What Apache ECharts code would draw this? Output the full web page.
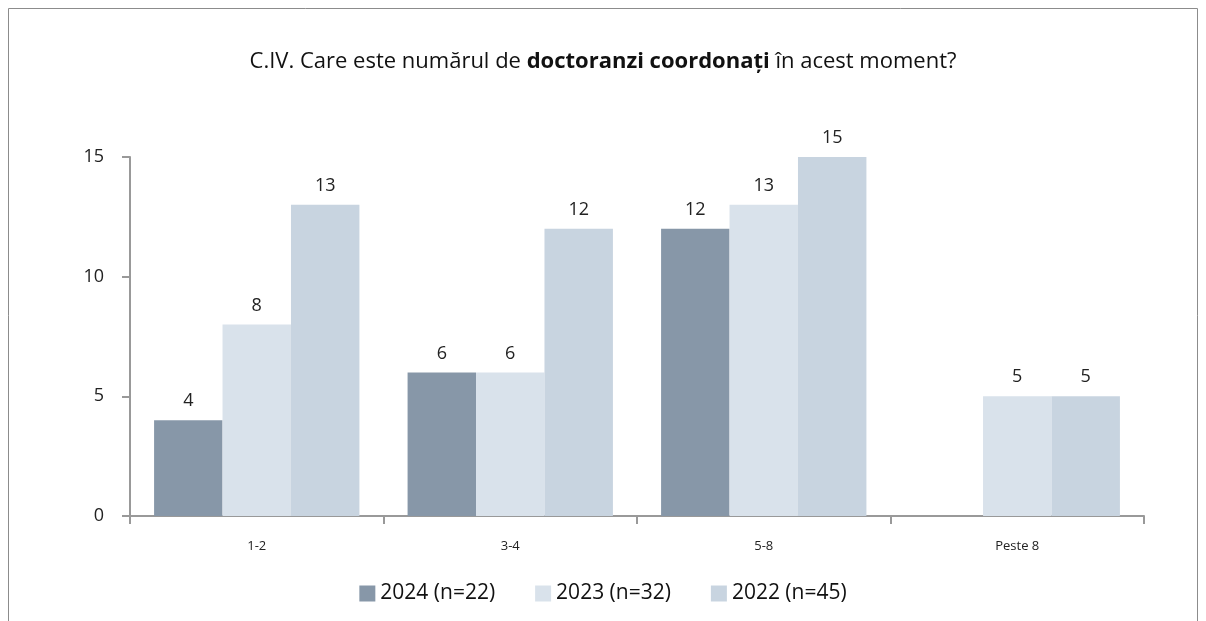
<!DOCTYPE html>
<html>
<head>
<meta charset="utf-8">
<script src="https://cdn.jsdelivr.net/npm/echarts@6/dist/echarts.min.js"></script>
<style>
  html, body { margin: 0; padding: 0; background: #fff; }
  #chart { width: 1206px; height: 621px; }
</style>
</head>
<body>
<div id="chart"></div>
<script>
/* numarul de doctoranzi coordonati, pe ani */
var categories = ['1-2', '3-4', '5-8', 'Peste 8'];
var seriesNames = ['2024 (n=22)', '2023 (n=32)', '2022 (n=45)'];
var values2024 = [4, 6, 12, null];
var values2023 = [8, 6, 13, 5];
var values2022 = [13, 12, 15, 5];
var yTicks = [0, 5, 10, 15];

var colors = ['#8797a8', '#d9e2eb', '#c8d4e0'];
var font = 'Open Sans';

var chart = echarts.init(document.getElementById('chart'));

function barSeries(name, data, color) {
  return {
    name: name,
    type: 'bar',
    data: data,
    itemStyle: { color: color },
    barGap: '0%',
    barCategoryGap: '19%',
    label: {
      show: true,
      position: 'top',
      distance: 10,
      color: '#222',
      fontSize: 18,
      fontFamily: font
    }
  };
}

var option = {
  animation: false,
  color: colors,
  graphic: [{
    type: 'rect',
    shape: { x: 8.5, y: 8.5, width: 1189, height: 640 },
    style: { fill: 'none', stroke: '#8c8c8c', lineWidth: 1 }
  }],
  title: {
    text: '{n|C.IV. Care este numărul de }{b|doctoranzi coordonați}{n| în acest moment?}',
    left: 'center',
    top: 46,
    textStyle: {
      fontWeight: 'normal',
      rich: {
        n: { fontSize: 22, fontFamily: font, color: '#111', fontWeight: 'normal' },
        b: { fontSize: 22, fontFamily: font, color: '#111', fontWeight: 'bold' }
      }
    }
  },
  legend: {
    bottom: 12,
    left: 'center',
    itemWidth: 16,
    itemHeight: 16,
    itemGap: 40,
    icon: 'rect',
    textStyle: { fontSize: 21, fontFamily: font, color: '#111' },
    data: seriesNames
  },
  grid: {
    left: 130,
    right: 62,
    top: 157,
    bottom: 105
  },
  xAxis: {
    type: 'category',
    data: categories,
    axisLine: { lineStyle: { color: '#999', width: 2 } },
    axisTick: { show: true, length: 8, lineStyle: { color: '#999', width: 2 } },
    axisLabel: { color: '#222', fontSize: 13, fontFamily: font, margin: 24 }
  },
  yAxis: {
    type: 'value',
    min: yTicks[0],
    max: yTicks[yTicks.length - 1],
    interval: yTicks[1] - yTicks[0],
    axisLine: { show: true, lineStyle: { color: '#999', width: 2 } },
    axisTick: { show: true, length: 8, lineStyle: { color: '#999', width: 2 } },
    axisLabel: { color: '#222', fontSize: 18, fontFamily: font, margin: 26 },
    splitLine: { show: false }
  },
  series: [
    barSeries(seriesNames[0], values2024, colors[0]),
    barSeries(seriesNames[1], values2023, colors[1]),
    barSeries(seriesNames[2], values2022, colors[2])
  ]
};

chart.setOption(option);
</script>
</body>
</html>
